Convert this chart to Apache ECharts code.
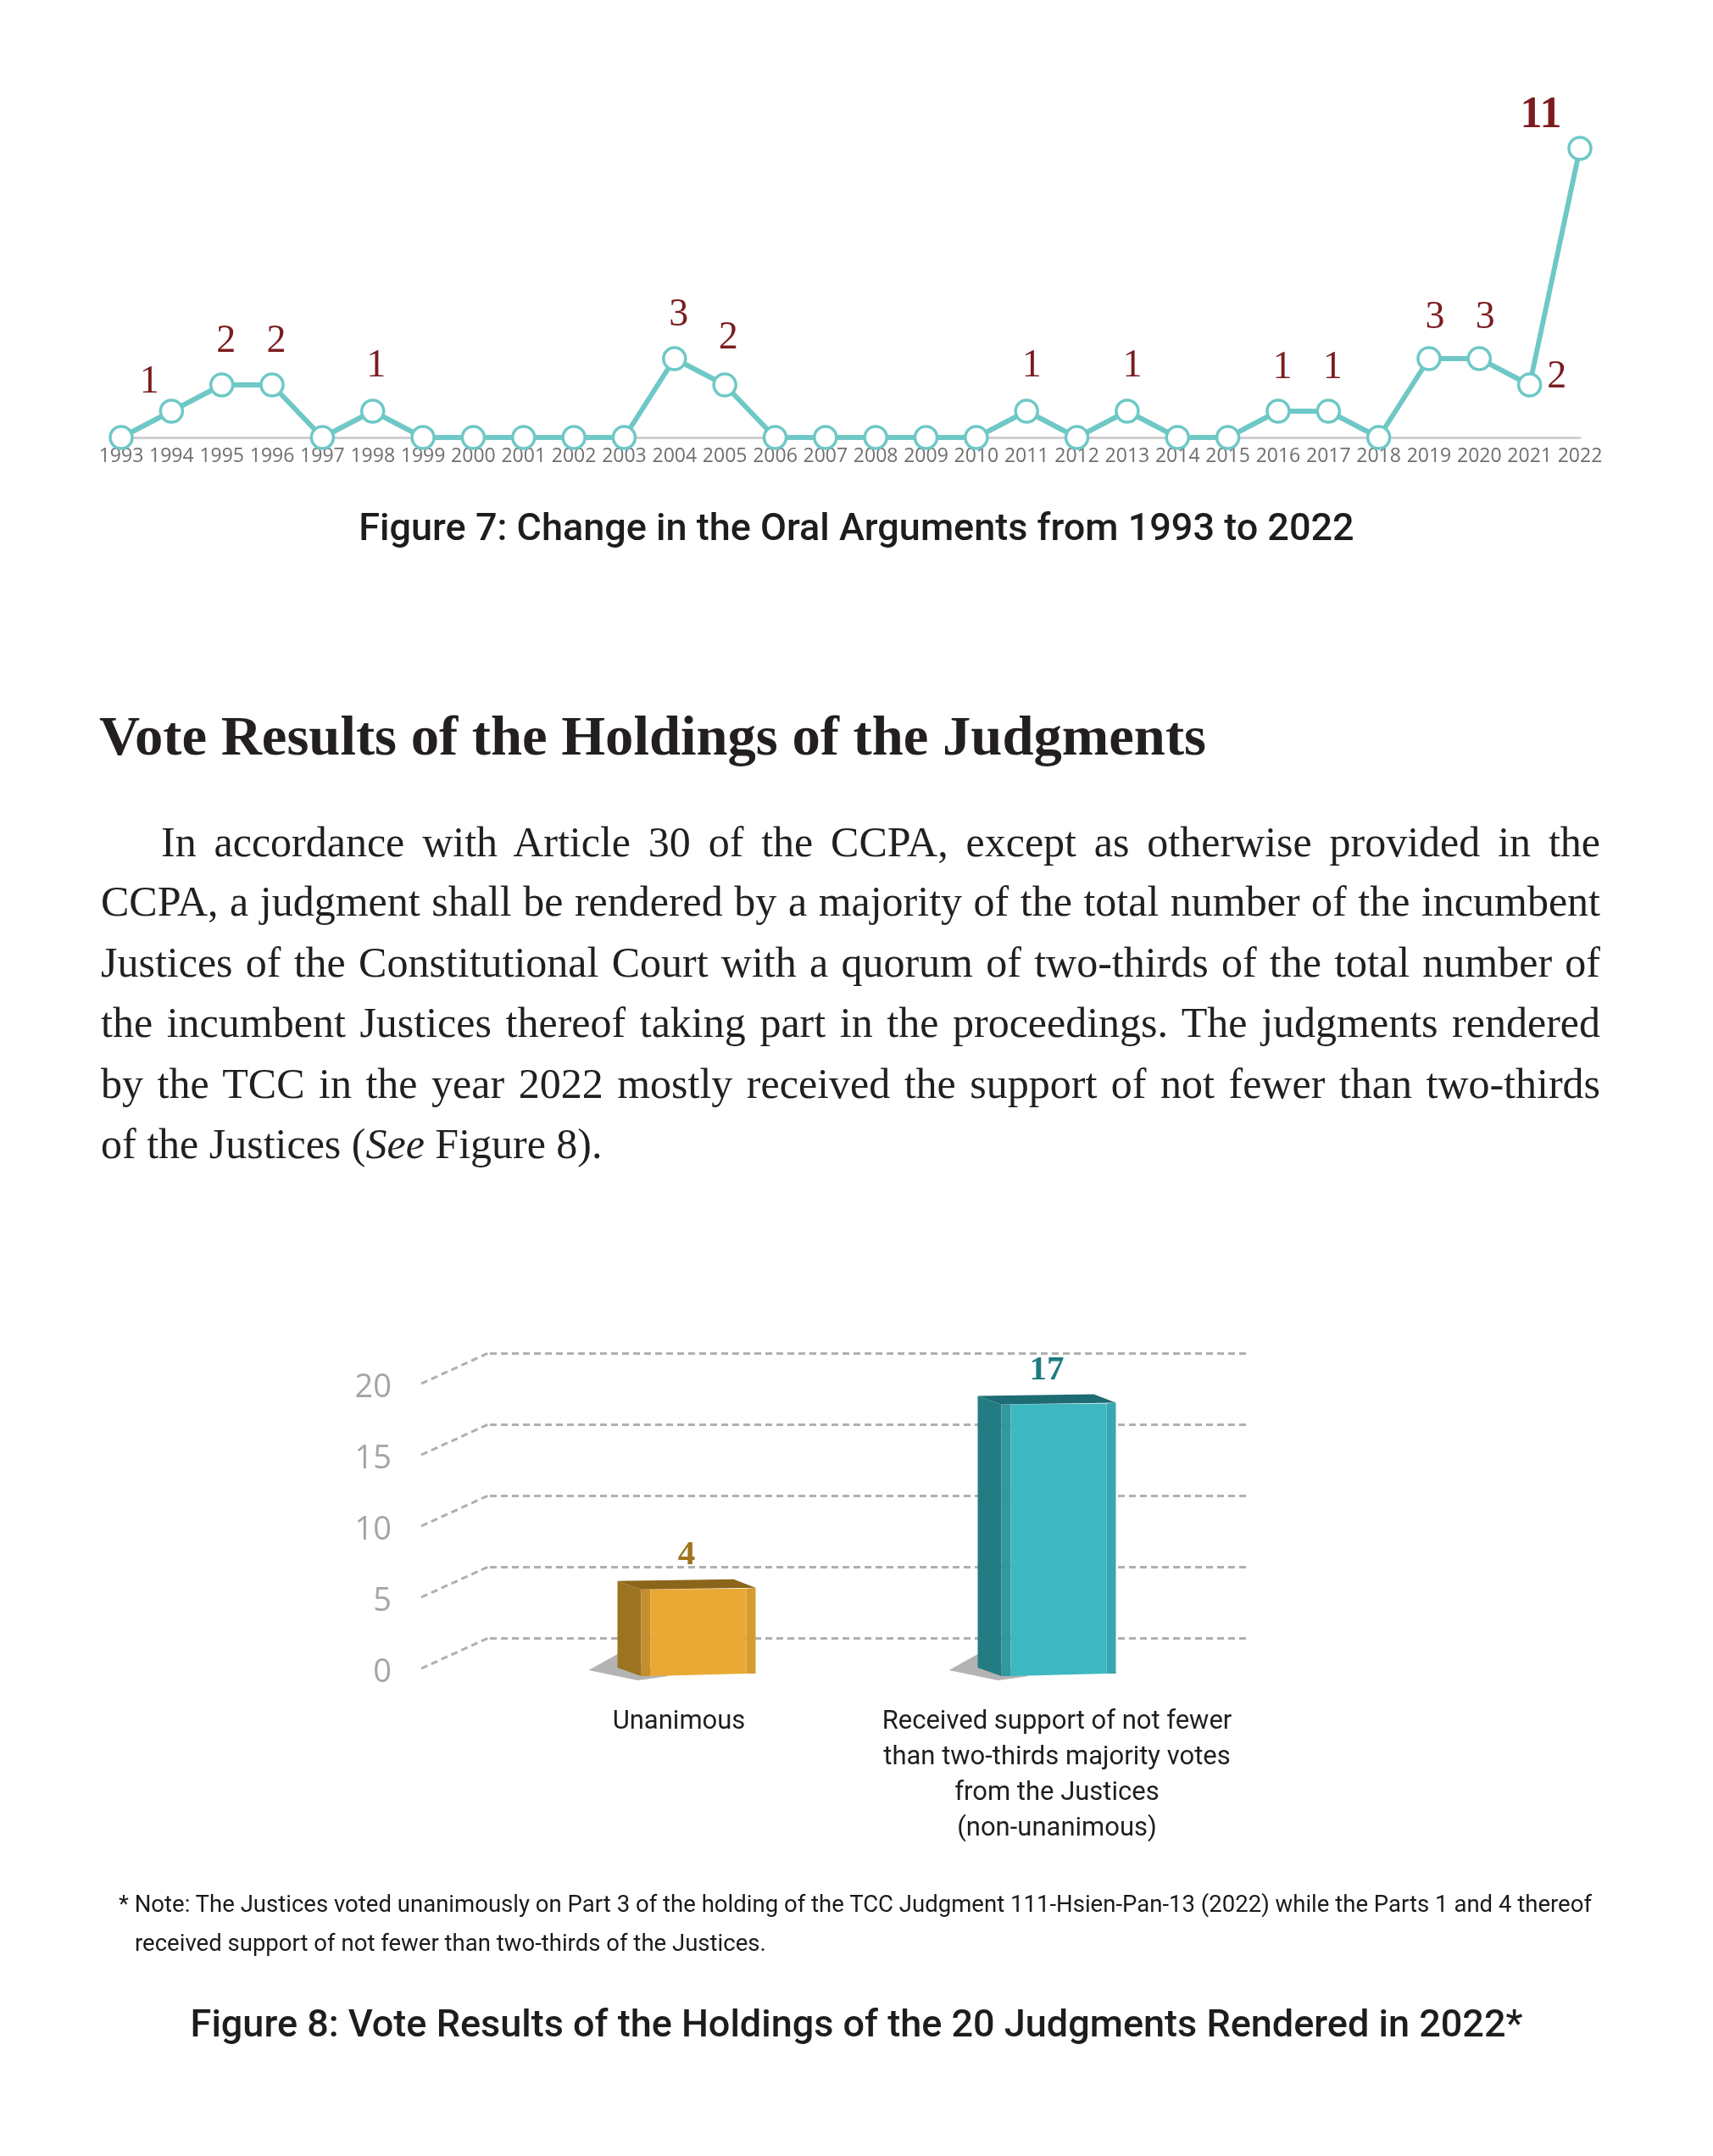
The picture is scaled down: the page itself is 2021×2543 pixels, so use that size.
<!DOCTYPE html>
<html>
<head>
<meta charset="utf-8">
<script src="https://cdn.jsdelivr.net/npm/echarts@6/dist/echarts.min.js"></script>
<style>
html,body{margin:0;padding:0;background:#fff;}
#page{position:relative;width:2021px;height:2543px;overflow:hidden;background:#fff;}
#chart{position:absolute;left:0;top:0;width:2021px;height:2543px;}
.t{position:absolute;white-space:nowrap;color:#231f20;}
.serif{font-family:'Liberation Serif','Times New Roman',serif;}
.h{font-size:66px;font-weight:bold;line-height:80px;}
.pl{font-size:50px;line-height:72px;height:72px;}
.note{font-family:Roboto,'Liberation Sans',sans-serif;font-size:28px;line-height:46px;height:46px;color:#1a1a1a;}
</style>
</head>
<body>
<div id="page">
  <div id="chart"></div>
  <div class="t serif h" id="heading" style="left:117px;top:828px"><span>Vote Results of the Holdings of the Judgments</span></div>
  <div class="t serif pl" data-w="1698" style="left:190px;top:957px"><span>In accordance with Article 30 of the CCPA, except as otherwise provided in the</span></div>
  <div class="t serif pl" data-w="1769" style="left:119px;top:1027px"><span>CCPA, a judgment shall be rendered by a majority of the total number of the incumbent</span></div>
  <div class="t serif pl" data-w="1769" style="left:119px;top:1099px"><span>Justices of the Constitutional Court with a quorum of two-thirds of the total number of</span></div>
  <div class="t serif pl" data-w="1769" style="left:119px;top:1170px"><span>the incumbent Justices thereof taking part in the proceedings. The judgments rendered</span></div>
  <div class="t serif pl" data-w="1769" style="left:119px;top:1242px"><span>by the TCC in the year 2022 mostly received the support of not fewer than two-thirds</span></div>
  <div class="t serif pl" style="left:119px;top:1313px"><span>of the Justices (<i>See</i> Figure 8).</span></div>
  <div class="t note" id="note1" style="left:140px;top:2223px"><span>* Note: The Justices voted unanimously on Part 3 of the holding of the TCC Judgment 111-Hsien-Pan-13 (2022) while the Parts 1 and 4 thereof</span></div>
  <div class="t note" id="note2" style="left:159px;top:2269px"><span>received support of not fewer than two-thirds of the Justices.</span></div>
</div>
<script>
// ---------- data ----------
const years = ['1993','1994','1995','1996','1997','1998','1999','2000','2001','2002',
               '2003','2004','2005','2006','2007','2008','2009','2010','2011','2012',
               '2013','2014','2015','2016','2017','2018','2019','2020','2021','2022'];
const oralArguments = [0,1,2,2,0,1,0,0,0,0,
                       0,3,2,0,0,0,0,0,1,0,
                       1,0,0,1,1,0,3,3,2,11];
const voteCategories = ['Unanimous',
  'Received support of not fewer\nthan two-thirds majority votes\nfrom the Justices\n(non-unanimous)'];
const voteCounts = [4, 17];
const voteTicks = [0, 5, 10, 15, 20];

// ---------- layout / style (not data) ----------
const labelShift = {'1994':[-26,-34], '1998':[4,-53], '2005':[4,-55], '2011':[6,-53], '2013':[6,-53],
                    '2019':[7,-48], '2020':[7,-48], '2021':[32,-9], '2022':[-46,-38]};
const defaultShift = [5,-51];
const barPalette = [
  {front:'#e9a935', side:'#9c7320', inner:'#c58e2e', right:'#d49c30', top:'#8b6519', label:'#a0741d'},
  {front:'#3eb8c0', side:'#237c83', inner:'#31989e', right:'#37a8af', top:'#1d6c73', label:'#1f7b81'}
];
const teal = '#6ec8c6';

const chart = echarts.init(document.getElementById('chart'), null, {renderer:'canvas'});

const lineData = oralArguments.map((v, i) => ({
  value: v,
  label: {
    show: v > 0,
    offset: labelShift[years[i]] || defaultShift,
    fontSize: v >= 10 ? 52 : 46,
    fontWeight: v >= 10 ? 'bold' : 'normal'
  }
}));

const option = {
  animation: false,
  backgroundColor: 'transparent',
  title: [
    {text:'Figure 7: Change in the Oral Arguments from 1993 to 2022', left:'center', top:603, padding:0,
     textStyle:{fontFamily:'Roboto', fontSize:45, fontWeight:500, color:'#1d1d1d'}},
    {text:'Figure 8: Vote Results of the Holdings of the 20 Judgments Rendered in 2022*', left:'center', top:2368, padding:0,
     textStyle:{fontFamily:'Roboto', fontSize:45, fontWeight:500, color:'#1d1d1d'}}
  ],
  grid: [
    {left:143, right:157, top:144, bottom:2027, containLabel:false},
    {left:578, right:551, top:1596, bottom:611, containLabel:false}
  ],
  xAxis: [
    {gridIndex:0, type:'category', data:years, boundaryGap:false,
     axisLine:{show:true, lineStyle:{color:'#cfcfcf', width:3}},
     axisTick:{show:false},
     axisLabel:{interval:0, margin:11, color:'#6f6f6f', fontFamily:'Open Sans', fontSize:23}},
    {gridIndex:1, type:'category', data:voteCategories,
     axisLine:{show:false}, axisTick:{show:false},
     axisLabel:{interval:0, margin:78, color:'#1e1e1e', fontFamily:'Roboto', fontSize:31, lineHeight:42, align:'center'}}
  ],
  yAxis: [
    {gridIndex:0, type:'value', min:0, max:12, show:false, splitLine:{show:false}},
    {gridIndex:1, type:'value', min:0, max:20, interval:5,
     axisLine:{show:false}, axisTick:{show:false},
     splitLine:{show:true, lineStyle:{color:'#b0b0b0', width:3, type:[8,5]}},
     axisLabel:{margin:116, color:'#a5a5a5', fontFamily:'Open Sans', fontSize:38,
                verticalAlign:'top', lineHeight:82, showMinLabel:true, showMaxLabel:true, hideOverlap:false}}
  ],
  series: [
    {type:'line', xAxisIndex:0, yAxisIndex:0, data:lineData,
     symbol:'circle', symbolSize:26, showAllSymbol:true,
     lineStyle:{color:teal, width:6},
     itemStyle:{color:'#ffffff', borderColor:teal, borderWidth:3.5},
     label:{position:'inside', color:'#7b1c20', fontFamily:'Liberation Serif'},
     z:5},
    {type:'custom', xAxisIndex:1, yAxisIndex:1, silent:true, clip:false,
     data: voteTicks.map(v => [0, v]),
     encode:{x:0, y:1},
     renderItem: function (params, api) {
       const cs = params.coordSys;
       const y = api.coord([0, api.value(1)])[1];
       return {type:'line', shape:{x1:cs.x - 81, y1:y + 36, x2:cs.x - 2, y2:y},
               style:{stroke:'#b0b0b0', lineWidth:3, lineDash:[8,5]}};
     }},
    {type:'custom', xAxisIndex:1, yAxisIndex:1, silent:true, clip:false,
     data: voteCounts.map((v, i) => [i, v]),
     encode:{x:0, y:1},
     renderItem: function (params, api) {
       const cs = params.coordSys;
       const i = api.value(0), v = api.value(1);
       const topPt = api.coord([i, v]);
       const basePt = api.coord([i, 0]);
       const c = barPalette[i];
       const midX = cs.x + cs.width / 2;
       // slight perspective convergence toward the middle of the plot
       const cx = topPt[0] - 0.047 * (topPt[0] - midX) - 1.5;
       const L = cx - 81.5, yv = topPt[1], y0 = basePt[1];
       const poly = (pts, fill) => ({type:'polygon', shape:{points:pts}, style:{fill:fill}});
       return {type:'group', children:[
         poly([[L-34,y0+38],[L,y0+19],[L+60,y0+45],[L+24,y0+50]], '#b3b3b3'),
         poly([[L,yv],[L+28,yv+10],[L+28,y0+45],[L,y0+35]], c.side),
         poly([[L+28,yv+10],[L+39,yv+10],[L+39,y0+45],[L+28,y0+45]], c.inner),
         poly([[L+39,yv+10],[L+152,yv+9],[L+152,y0+42],[L+39,y0+45]], c.front),
         poly([[L+152,yv+9],[L+163,yv+8],[L+163,y0+42],[L+152,y0+42]], c.right),
         poly([[L,yv],[L+137,yv-2],[L+163,yv+8],[L+28,yv+10]], c.top),
         {type:'text', x:cx, y:yv-30,
          style:{text:String(v), fill:c.label, font:'bold 41px "Liberation Serif", serif',
                 align:'center', verticalAlign:'middle'}}
       ]};
     }}
  ]
};
chart.setOption(option);

// ---------- text fitting ----------
document.querySelectorAll('.pl[data-w]').forEach(function (el) {
  const W = +el.getAttribute('data-w');
  const s = el.firstElementChild;
  const w = s.getBoundingClientRect().width;
  if (w > W) {
    s.style.display = 'inline-block';
    s.style.transformOrigin = '0 50%';
    s.style.transform = 'scaleX(' + (W / w) + ')';
  } else {
    el.style.width = W + 'px';
    el.style.whiteSpace = 'normal';
    el.style.textAlign = 'justify';
    el.style.textAlignLast = 'justify';
  }
});
(function () {
  // heading width 117..1423
  const h = document.querySelector('#heading span');
  const hw = h.getBoundingClientRect().width;
  h.style.display = 'inline-block';
  h.style.transformOrigin = '0 50%';
  h.style.transform = 'scaleX(' + Math.max(0.9, Math.min(1.1, 1306 / hw)) + ')';

  const n1 = document.querySelector('#note1 span');
  const n2 = document.querySelector('#note2 span');
  const w = n1.getBoundingClientRect().width;
  let k = 1738 / w;
  k = Math.max(0.85, Math.min(1.1, k));
  [n1, n2].forEach(function (s) {
    s.style.display = 'inline-block';
    s.style.transformOrigin = '0 50%';
    s.style.transform = 'scaleX(' + k + ')';
  });
})();
</script>
</body>
</html>
